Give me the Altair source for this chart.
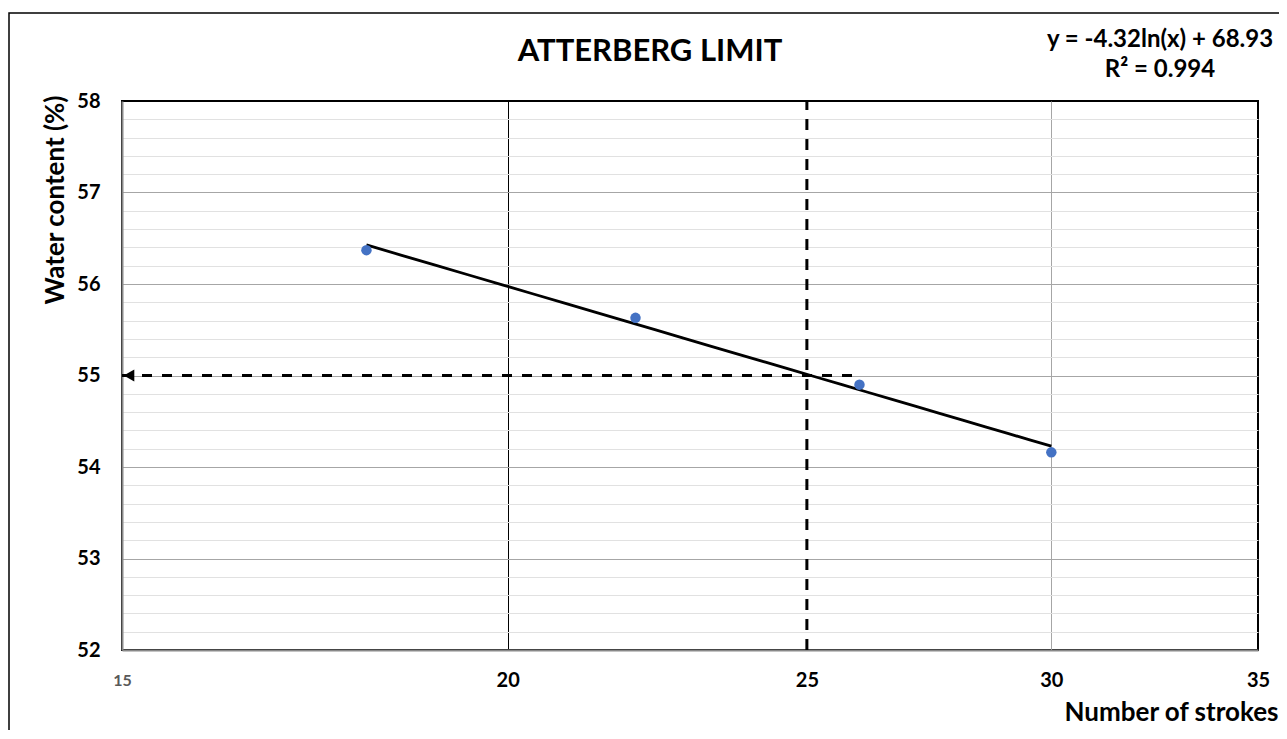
import altair as alt
import pandas as pd

# ---- data ----
strokes = [18, 22, 26, 30]
water = [56.37, 55.63, 54.90, 54.16]
x_ticks = [15, 20, 25, 30, 35]
y_major = [52, 53, 54, 55, 56, 57, 58]
ll_strokes = 25          # liquid-limit blow count
ll_water = 55            # liquid limit (%)
arrow_from = 26          # where the horizontal dashed arrow starts
trend_extent = [18, 30]
title_text = "ATTERBERG LIMIT"
eq_line1 = "y = -4.32ln(x) + 68.93"
eq_line2 = "R² = 0.994"
x_title = "Number of strokes"
y_title = "Water content (%)"

FONT = "Lato"
x_min, x_max = x_ticks[0], x_ticks[-1]
y_min, y_max = y_major[0], y_major[-1]

df = pd.DataFrame({"strokes": strokes, "water": water})
y_grid = []
for v in y_major[:-1]:
    y_grid += [round(v + 0.2 * k, 1) for k in range(5)]
y_grid.append(y_max)

xscale = alt.Scale(type="log", domain=[x_min, x_max], nice=False)
yscale = alt.Scale(domain=[y_min, y_max], nice=False, zero=False)

xaxis = alt.Axis(
    values=x_ticks, tickCount=100, tickMinStep=1, format="d", title=x_title, ticks=False,
    domainColor="#898989", domainWidth=2,
    grid=True,
    gridColor=alt.condition("datum.value == 30", alt.value("#a6a6a6"), alt.value("black")),
    gridOpacity=alt.condition("datum.value == 25 || datum.value == 15 || datum.value == 35",
                              alt.value(0), alt.value(1)),
    gridWidth=1,
    labelFlush=False, labelOverlap=False, labelBaseline="middle", labelPadding=30,
    labelFont=FONT, labelFontWeight="bold",
    labelFontSize=alt.condition("datum.value == 15", alt.value(16), alt.value(20)),
    labelColor=alt.condition("datum.value == 15", alt.value("#595959"), alt.value("black")),
    titleFont=FONT, titleFontSize=26, titleFontWeight="bold", titleColor="black",
    titleAlign="right", titleBaseline="middle", titleX=1156, titleY=62,
)

yaxis = alt.Axis(
    values=y_grid, tickCount=100, tickMinStep=0.1, title=y_title, ticks=False,
    domainColor="#898989", domainWidth=2,
    grid=True,
    gridColor=alt.condition("abs(datum.value - round(datum.value)) < 0.01",
                            alt.value("#a6a6a6"), alt.value("#e1e1e1")),
    gridOpacity=alt.condition("datum.value == 52 || datum.value == 58", alt.value(0), alt.value(1)),
    gridWidth=1,
    labelExpr="abs(datum.value - round(datum.value)) < 0.01 ? format(datum.value, 'd') : ''",
    labelOverlap=False, labelPadding=22,
    labelFont=FONT, labelFontWeight="bold", labelFontSize=20, labelColor="black",
    titleFont=FONT, titleFontSize=26, titleFontWeight="bold", titleColor="black",
    titleAngle=-90, titleAlign="right", titleBaseline="middle", titleX=-67, titleY=-6,
)

X = alt.X("strokes:Q", scale=xscale, axis=xaxis)
Y = alt.Y("water:Q", scale=yscale, axis=yaxis)

one = alt.Data(values=[{}])

frame = alt.Chart(one).mark_rect(fill="transparent", stroke="black", strokeWidth=1.5, clip=False).encode(
    x=alt.value(-113), y=alt.value(-88), x2=alt.value(1300), y2=alt.value(800)
)

points = alt.Chart(df).mark_circle(color="#4472C4", size=110, opacity=1).encode(x=X, y=Y)

vrule = alt.Chart(pd.DataFrame({"strokes": [ll_strokes], "water": [y_min], "water2": [y_max]})).mark_rule(
    color="black", strokeWidth=3, strokeDash=[11, 9]
).encode(x=X, y=Y, y2="water2:Q")

hrule = alt.Chart(pd.DataFrame({"strokes": [x_min], "strokes2": [arrow_from], "water": [ll_water]})).mark_rule(
    color="black", strokeWidth=3, strokeDash=[10, 10]
).encode(x=X, x2="strokes2:Q", y=Y)

arrow = alt.Chart(pd.DataFrame({"strokes": [x_min], "water": [ll_water]})).mark_point(
    shape="triangle-left", filled=True, color="black", size=150, opacity=1, xOffset=7
).encode(x=X, y=Y)

trend = alt.Chart(df).transform_regression(
    "strokes", "water", method="log", extent=trend_extent
).mark_line(color="black", strokeWidth=2.8).encode(x=X, y=Y)

title = alt.Chart(one).mark_text(
    text=title_text, font=FONT, fontSize=31, fontWeight="bold", color="black",
    align="center", baseline="middle"
).encode(x=alt.value(528), y=alt.value(-49))

eq1 = alt.Chart(one).mark_text(
    text=eq_line1, font=FONT, fontSize=24, fontWeight="bold", color="black",
    align="center", baseline="middle"
).encode(x=alt.value(1038), y=alt.value(-61))

eq2 = alt.Chart(one).mark_text(
    text=eq_line2, font=FONT, fontSize=24, fontWeight="bold", color="black",
    align="center", baseline="middle"
).encode(x=alt.value(1038), y=alt.value(-31))

chart = alt.layer(
    frame, vrule, hrule, arrow, trend, points, title, eq1, eq2
).properties(
    width=1136, height=549,
    autosize=alt.AutoSizeParams(type="none"),
    padding={"left": 114, "top": 93, "right": 21, "bottom": 80},
    background="white",
).configure_view(stroke="black", strokeWidth=2)

chart.save("out.html", embed_options={"renderer": "svg", "actions": False})
